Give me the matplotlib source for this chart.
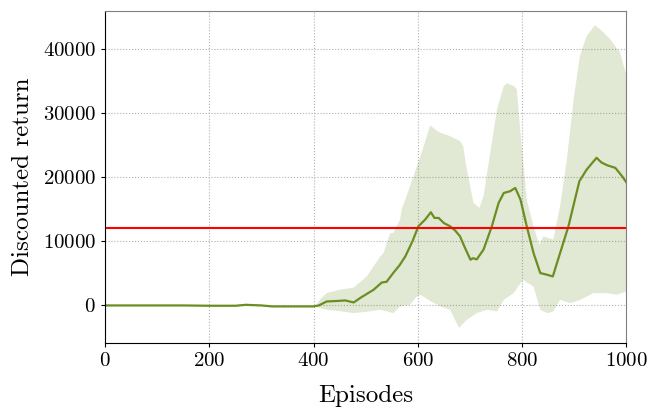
import numpy as np
import matplotlib
matplotlib.use("Agg")
import matplotlib.pyplot as plt

plt.rcParams['font.family'] = ['cmr10', 'DejaVu Serif']
plt.rcParams['axes.formatter.use_mathtext'] = True
plt.rcParams['mathtext.fontset'] = 'cm'

mean_x = [0, 50, 100, 150, 200, 250, 270, 300, 320, 400, 410, 425, 445, 461, 470, 477, 490,
          515, 531, 540, 553, 565, 576, 590, 601, 614, 625, 632, 640, 650, 662, 672, 681,
          690, 701, 706, 713, 726, 742, 755, 765, 777, 787, 797, 809, 822, 835, 848, 859,
          873, 889, 900, 910, 924, 943, 952, 963, 979, 992, 1000]
mean_y = [-100, -100, -100, -100, -150, -150, 0, -100, -250, -250, -100, 520, 600, 680, 500,
          370, 1100, 2350, 3500, 3600, 5000, 6200, 7580, 10000, 12290, 13340, 14490, 13600,
          13600, 12800, 12290, 11600, 10720, 9000, 7060, 7300, 7110, 8630, 12290, 15950,
          17520, 17780, 18300, 16470, 12290, 8110, 4970, 4710, 4440, 8110, 12290, 16000,
          19350, 21180, 23020, 22300, 21860, 21440, 20130, 19190]

upper_x = [405, 412, 425, 450, 477, 502, 515, 528, 534, 547, 553, 566, 569, 585, 605, 624,
           633, 643, 662, 681, 687, 694, 707, 718, 726, 739, 752, 765, 771, 784, 790, 797,
           809, 822, 833, 841, 860, 873, 886, 899, 911, 924, 940, 953, 969, 988, 1000]
upper_y = [-100, 800, 1830, 2350, 2700, 4440, 6000, 7580, 8110, 11250, 11250, 13340, 14900,
           18560, 23270, 28090, 27460, 26940, 26410, 25620, 24840, 21180, 15950, 15170, 16990,
           23800, 30600, 34250, 34670, 34250, 33730, 26940, 16470, 12290, 9410, 10720, 10200,
           15480, 22750, 32170, 38970, 42100, 43780, 42890, 41580, 39490, 36000]

lower_x = [405, 412, 425, 450, 477, 500, 528, 553, 566, 585, 598, 605, 624, 643, 662, 679,
           694, 713, 732, 752, 765, 784, 797, 803, 809, 822, 835, 848, 860, 873, 893, 912,
           937, 963, 982, 1000]
lower_y = [-100, -500, -780, -1000, -1300, -1100, -780, -1300, -260, 0, 1300, 1570, 600,
           -260, -780, -3600, -2350, -1300, -780, -1040, 780, 1830, 3400, 3920, 3500, 2870,
           -780, -1300, -1040, 780, 260, 780, 1830, 1830, 1570, 2090]

threshold = 12000
xticks = [0, 200, 400, 600, 800, 1000]
yticks = [0, 10000, 20000, 30000, 40000]

fig = plt.figure(figsize=(6.49, 4.08), dpi=100)
ax = fig.add_axes([0.162, 0.159, 0.803, 0.814])

# band polygon: upper edge left-to-right, lower edge right-to-left
poly_x = list(upper_x) + list(reversed(lower_x))
poly_y = list(upper_y) + list(reversed(lower_y))
ax.fill(poly_x, poly_y, color='olivedrab', alpha=0.2, linewidth=0)
ax.plot(mean_x, mean_y, color='olivedrab', linewidth=1.6)
ax.axhline(threshold, color='red', linewidth=1.5)

ax.set_xlim(0, 1000)
ax.set_ylim(-6000, 46000)
ax.set_xticks(xticks)
ax.set_yticks(yticks)
ax.grid(True, linestyle=':', color='#b0b0b0', linewidth=0.8)
ax.set_axisbelow(True)
ax.tick_params(labelsize=15, direction='out', length=3, top=False, right=False)
for s in ['top', 'right']:
    ax.spines[s].set_color('#808080')
for s in ['left', 'bottom']:
    ax.spines[s].set_color('black')
ax.set_xlabel('Episodes', fontsize=18, labelpad=10.5)
ax.set_ylabel('Discounted return', fontsize=18, labelpad=6)

fig.savefig('out.png', dpi=100)
